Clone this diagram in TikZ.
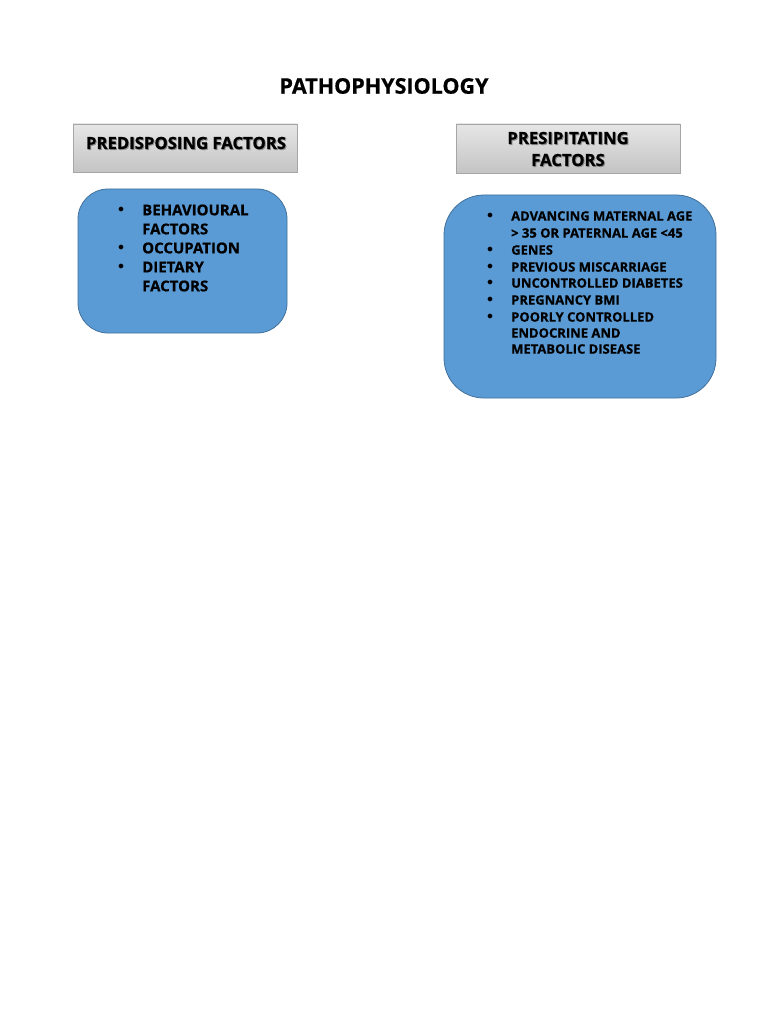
\documentclass[tikz,border=0pt]{standalone}
\usepackage{fontspec}
\setmainfont{Open Sans}[BoldFeatures={FakeBold=0.6}]
\definecolor{boxblue}{HTML}{5B9BD5}
\definecolor{boxedge}{HTML}{41719C}
\definecolor{graytop}{HTML}{E6E6E6}
\definecolor{graybot}{HTML}{C4C4C4}
\definecolor{grayedge}{HTML}{A6A6A6}
\begin{document}
\begin{tikzpicture}[x=1pt,y=-1pt,
  header/.style={draw=grayedge, top color=graytop, bottom color=graybot, inner sep=0pt},
  bluebox/.style={draw=boxedge, fill=boxblue, line width=0.8pt},
  itemL/.style={anchor=west, inner sep=0pt, font=\bfseries\fontsize{15}{17}\selectfont},
  itemR/.style={anchor=west, inner sep=0pt, font=\bfseries\fontsize{13}{15}\selectfont},
  bulL/.style={inner sep=0pt, font=\fontsize{13}{15}\selectfont},
  bulR/.style={inner sep=0pt, font=\fontsize{12}{14}\selectfont},
  headtxt/.style={inner sep=0pt, font=\bfseries\fontsize{16.7}{19}\selectfont, align=center}
]
\useasboundingbox (0,0) rectangle (768,1024);
\fill[white] (0,0) rectangle (768,1024);

\node[inner sep=0pt, font=\bfseries\fontsize{21.5}{24}\selectfont] (title) at (384,86) {PATHOPHYSIOLOGY};

% headers
\node[header, minimum width=224pt, minimum height=48pt] (hL) at (185,148) {};
\node[headtxt, text=black!45] at (187,144) {PREDISPOSING FACTORS};
\node[headtxt] (hLt) at (186,143) {PREDISPOSING FACTORS};
\node[header, minimum width=224pt, minimum height=49pt] (hR) at (568,148.5) {};
\node[headtxt, text=black!45] at (569,139) {PRESIPITATING};
\node[headtxt, text=black!45] at (569,161) {FACTORS};
\node[headtxt] (hRt1) at (568,138) {PRESIPITATING};
\node[headtxt] (hRt2) at (568,160) {FACTORS};

% blue boxes
\draw[bluebox, rounded corners=30pt] (78,189) rectangle (287,333);
\draw[bluebox, rounded corners=40pt] (444,195) rectangle (716,398);

% left list
\node[bulL] (bl1) at (121,210) {$\bullet$};
\node[itemL] (l1) at (142,210) {BEHAVIOURAL};
\node[itemL] (l2) at (142,229) {FACTORS};
\node[bulL] (bl2) at (121,248) {$\bullet$};
\node[itemL] (l3) at (142,248) {OCCUPATION};
\node[bulL] (bl3) at (121,267) {$\bullet$};
\node[itemL] (l4) at (142,267) {DIETARY};
\node[itemL] (l5) at (142,286) {FACTORS};

% right list
\node[bulR] (br1) at (490,216) {$\bullet$};
\node[itemR] (r1) at (511,216) {ADVANCING MATERNAL AGE};
\node[itemR] (r2) at (511,233) {> 35 OR PATERNAL AGE <45};
\node[bulR] (br2) at (490,250) {$\bullet$};
\node[itemR] (r3) at (511,250) {GENES};
\node[bulR] (br3) at (490,267) {$\bullet$};
\node[itemR] (r4) at (511,267) {PREVIOUS MISCARRIAGE};
\node[bulR] (br4) at (490,283) {$\bullet$};
\node[itemR] (r5) at (511,283) {UNCONTROLLED DIABETES};
\node[bulR] (br5) at (490,300) {$\bullet$};
\node[itemR] (r6) at (511,300) {PREGNANCY BMI};
\node[bulR] (br6) at (490,317) {$\bullet$};
\node[itemR] (r7) at (511,317) {POORLY CONTROLLED};
\node[itemR] (r8) at (511,333) {ENDOCRINE AND};
\node[itemR] (r9) at (511,349) {METABOLIC DISEASE};
\end{tikzpicture}
\end{document}
